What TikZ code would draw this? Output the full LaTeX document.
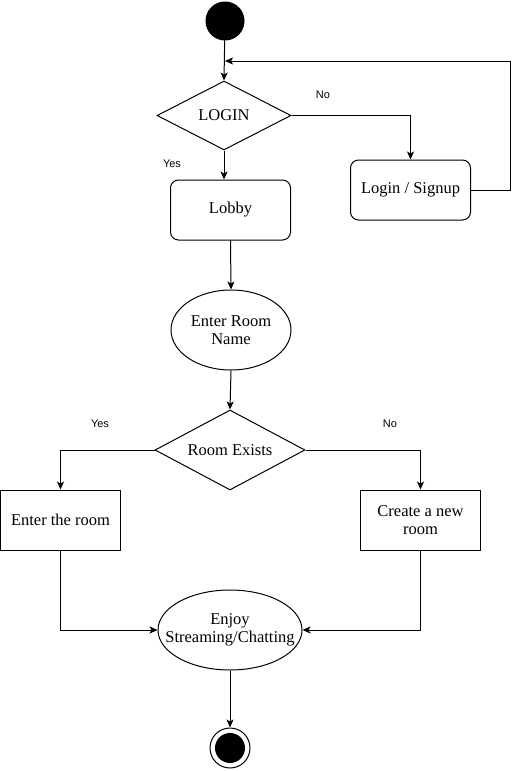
\documentclass[tikz,border=0pt]{standalone}
\usepackage{fontspec}
\setmainfont{Liberation Serif}
\newfontfamily\labelfont{Liberation Sans}
\usetikzlibrary{shapes.geometric,arrows.meta}
\begin{document}
\begin{tikzpicture}[x=1pt,y=-1pt,
  every node/.style={font=\fontsize{16.5}{18}\selectfont},
  base/.style={draw,line width=1pt,inner sep=0pt,align=center},
  rbox/.style={base,rectangle,rounded corners=8pt,minimum width=120pt,minimum height=60pt},
  sbox/.style={base,rectangle,minimum width=120pt,minimum height=60pt},
  dia/.style={base,diamond},
  oval/.style={base,ellipse},
  arr/.style={line width=1pt,-{Stealth[length=8pt,width=7pt,inset=2pt]}},
  lbl/.style={font=\labelfont\fontsize{11}{13}\selectfont},
  startdot/.style={circle,fill=black,draw,line width=1pt,minimum size=38pt,inner sep=0pt}
]
\useasboundingbox (0,0) rectangle (519,771);

\node[startdot] (start) at (225,21) {};
\coordinate (join) at (225,61);

\node[dia,minimum width=134pt,minimum height=69pt,aspect=1.94] (login) at (224,115.5) {LOGIN};
\node[rbox] (lobby) at (230.5,210) {Lobby};
\node[rbox] (signup) at (410.5,190) {Login / Signup};
\node[oval,minimum width=120pt,minimum height=80pt] (ename) at (231,330) {Enter Room\\Name};
\node[dia,minimum width=150pt,minimum height=80pt,aspect=1.875] (exists) at (230,450) {Room Exists};
\node[sbox] (enter) at (60.5,520) {Enter the room};
\node[sbox] (create) at (420.5,520) {Create a new\\room};
\node[oval,inner xsep=-18pt,minimum width=144pt,minimum height=80pt] (enjoy) at (230,630) {Enjoy\\Streaming/Chatting};
\node[circle,draw,line width=1pt,minimum size=40pt,inner sep=0pt] (final) at (230,748) {};
\fill (final.center) circle (15pt);

\draw[arr] (start) -- (login.north);
\draw[arr] (login.east) -| (signup.north);
\draw[arr] (login.south) -- (login.south |- lobby.north);
\draw[arr] (signup.east) -- ++(39,0) |- (join);
\draw[arr] (lobby.south) -- (ename.north);
\draw[arr] (ename.south) -- (exists.north);
\draw[arr] (exists.west) -| (enter.north);
\draw[arr] (exists.east) -| (create.north);
\draw[arr] (enter.south) |- (enjoy.west);
\draw[arr] (create.south) |- (enjoy.east);
\draw[arr] (enjoy.south) -- (final.north);

\node[lbl] (lno1) at (323,95) {No};
\node[lbl] (lyes1) at (172,164) {Yes};
\node[lbl] (lyes2) at (100,424) {Yes};
\node[lbl] (lno2) at (390,424) {No};
\end{tikzpicture}
\end{document}
